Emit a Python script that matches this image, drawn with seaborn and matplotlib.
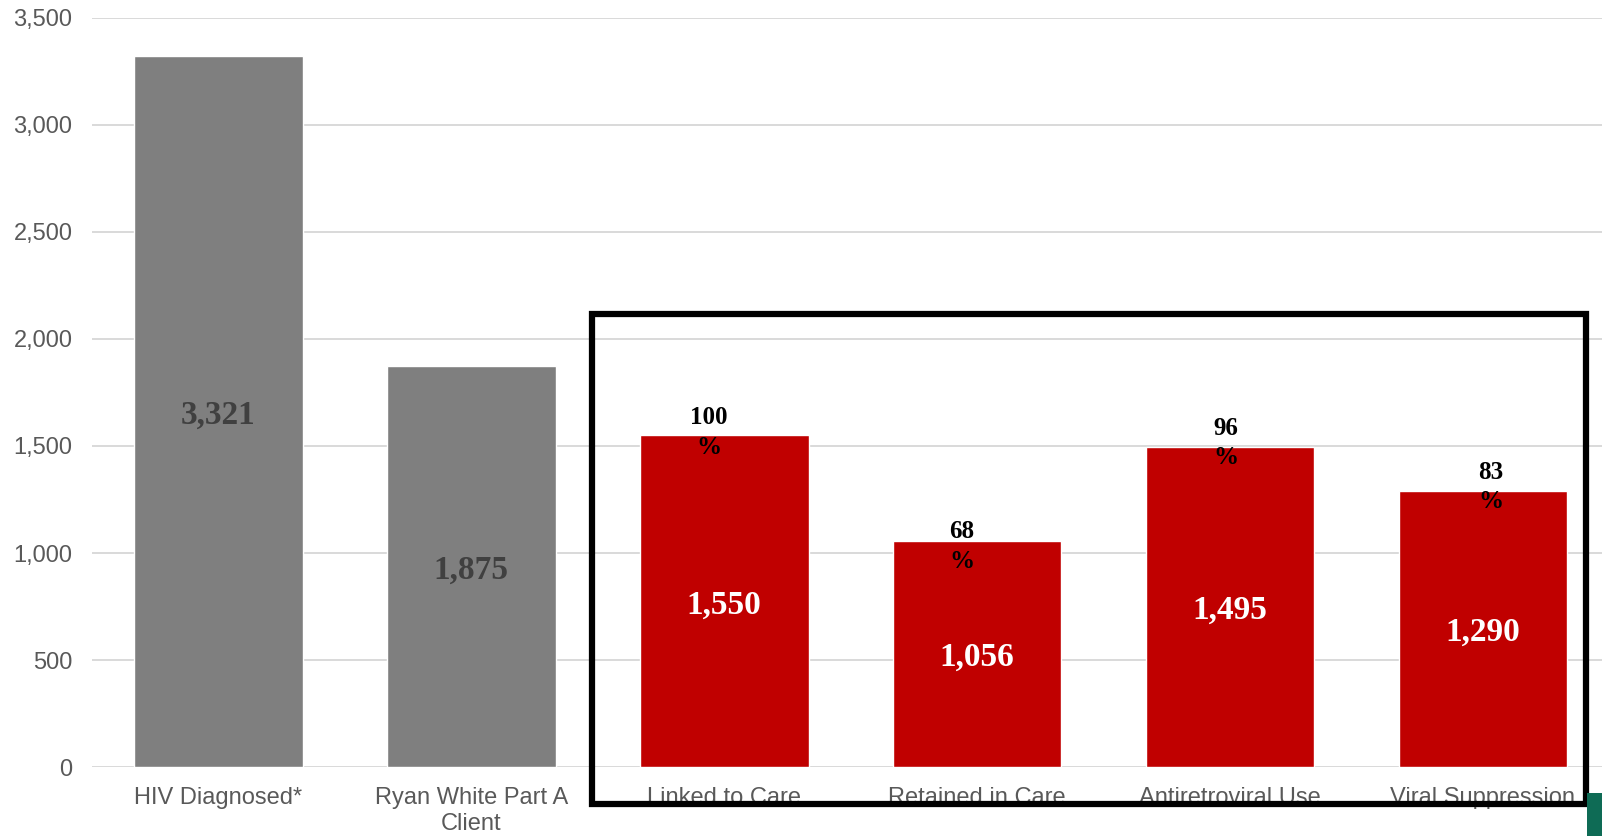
import matplotlib
matplotlib.use("Agg")
import matplotlib.pyplot as plt
from matplotlib.patches import Rectangle
import seaborn as sns
import pandas as pd

# Care continuum counts
categories = ["HIV Diagnosed*", "Ryan White Part A\nClient", "Linked to Care",
              "Retained in Care", "Antiretroviral Use", "Viral Suppression"]
counts = [3321, 1875, 1550, 1056, 1495, 1290]
stage_group = ["base", "base", "cascade", "cascade", "cascade", "cascade"]
percent_labels = ["", "", "100\n%", "68\n%", "96\n%", "83\n%"]
yticks = [0, 500, 1000, 1500, 2000, 2500, 3000, 3500]

# styling
group_colors = {"base": "#7F7F7F", "cascade": "#C00000"}
value_colors = {"base": "#404040", "cascade": "white"}
pct_dx = [0, 0, -0.06, -0.06, -0.016, 0.032]   # horizontal nudge (data units)
pct_dy = [0, 0, 2, -4, 3, 3]                    # vertical nudge (points)

df = pd.DataFrame({"stage": categories, "count": counts, "group": stage_group})

sns.set_theme(style="white")
plt.rcParams["font.family"] = ["Liberation Sans", "DejaVu Sans"]

fig = plt.figure(figsize=(16.02, 8.36), dpi=100)
ax = fig.add_axes([92 / 1602, 0.0822, 1 - 92 / 1602, 0.979 - 0.0822])

sns.barplot(data=df, x="stage", y="count", hue="group", palette=group_colors,
            dodge=False, width=0.667, legend=False, ax=ax, saturation=1)

ax.set_xlim(-0.5, 5.471)
ax.set_ylim(0, 3500)
ax.set_yticks(yticks)
ax.set_yticklabels([f"{v:,}" for v in yticks])
ax.set_xlabel("")
ax.set_ylabel("")
ax.set_axisbelow(True)
ax.yaxis.grid(True, color="#D9D9D9", linewidth=1.4)
ax.xaxis.grid(False)
for s in ax.spines.values():
    s.set_visible(False)
ax.tick_params(axis="both", length=0, labelsize=17, labelcolor="#595959")
ax.tick_params(axis="x", pad=14.5)
ax.tick_params(axis="y", pad=14)
for lbl in ax.get_xticklabels():
    lbl.set_linespacing(1.2)

serif = ["Liberation Serif", "DejaVu Serif"]
for i, (v, g) in enumerate(zip(counts, stage_group)):
    ax.text(i, v / 2, f"{v:,}", ha="center", va="center_baseline", fontsize=24,
            fontweight="bold", color=value_colors[g], family=serif)
    if percent_labels[i]:
        ax.annotate(percent_labels[i], xy=(i + pct_dx[i], v),
                    xytext=(0, pct_dy[i]), textcoords="offset points",
                    ha="center", va="center", fontsize=18, fontweight="bold",
                    color="black", family=serif, linespacing=1.35)

# highlight box around the cascade stages
fig.patches.append(Rectangle((591.6 / 1602, 1 - 804 / 836),
                             (1585.7 - 591.6) / 1602, (804 - 313.7) / 836,
                             transform=fig.transFigure, fill=False,
                             edgecolor="black", linewidth=4.5, zorder=10))
# corner tab
fig.patches.append(Rectangle((1587 / 1602, 0), 15 / 1602, 43 / 836,
                             transform=fig.transFigure, facecolor="#0E6B55",
                             edgecolor="none", zorder=10))

fig.savefig("out.png", dpi=100)
